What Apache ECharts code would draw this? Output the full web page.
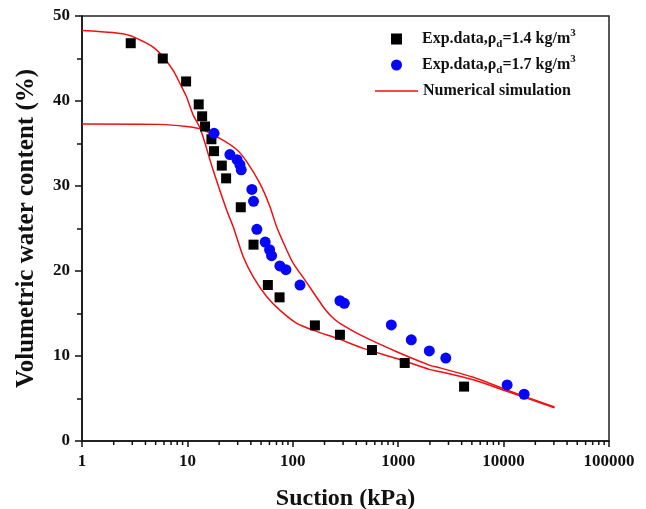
<!DOCTYPE html>
<html>
<head>
<meta charset="utf-8">
<script src="https://cdn.jsdelivr.net/npm/echarts@6/dist/echarts.min.js"></script>
<style>
  html, body { margin: 0; padding: 0; background: #fff; }
  #chart { width: 646px; height: 509px; }
</style>
</head>
<body>
<div id="chart"></div>
<script>
// Soil-water characteristic data: suction (kPa) vs volumetric water content (%)
const nameDense = 'Exp.data,ρd=1.4 kg/m3';
const nameLoose = 'Exp.data,ρd=1.7 kg/m3';
const nameSim = 'Numerical simulation';

// Experimental points, dry density 1.4
const suction14 = [2.9, 5.84, 9.72, 12.8, 13.8, 14.7, 16.9, 17.9, 21.2, 23.3, 32.1, 42.4, 58.0, 74.9, 162, 280, 564, 1153, 4217];
const theta14   = [46.8, 45.0, 42.3, 39.6, 38.2, 37.0, 35.5, 34.1, 32.4, 30.9, 27.5, 23.1, 18.35, 16.9, 13.6, 12.5, 10.7, 9.18, 6.4];

// Experimental points, dry density 1.7
const suction17 = [17.9, 25.3, 29.6, 31.5, 32.4, 40.9, 42.4, 45.6, 54.7, 60.2, 62.9, 75.4, 86.0, 117, 280, 308, 860, 1331, 1973, 2828, 10800, 15660];
const theta17   = [36.2, 33.7, 33.1, 32.5, 31.9, 29.6, 28.2, 24.9, 23.4, 22.5, 21.8, 20.6, 20.15, 18.35, 16.5, 16.2, 13.65, 11.9, 10.6, 9.76, 6.6, 5.5];

// Simulated curve for the 1.4 specimen
const simSuctionA = [1, 1.96, 2.84, 4.09, 4.9, 5.88, 7.32, 8.47, 9.8, 11.3, 13.3, 17.5, 23.5, 27.2, 33.8, 42.1, 56.4, 75.4, 109, 168, 261, 466, 968, 2005, 2495, 5170, 10720, 30400];
const simThetaA   = [48.3, 48.05, 47.7, 46.8, 46.2, 45.2, 43.6, 42.1, 40.5, 38.4, 36.7, 31.9, 27.2, 25.2, 21.7, 19.3, 17.0, 15.4, 13.85, 12.9, 12.1, 10.9, 9.7, 8.4, 8.15, 7.2, 5.85, 3.9];

// Simulated curve for the 1.7 specimen
const simSuctionB = [1, 5.47, 9.8, 13.3, 20.3, 29.3, 36.4, 48.7, 60.6, 70.2, 87.3, 101, 131, 202, 250, 301, 466, 968, 2005, 2495, 5170, 10720, 30400];
const simThetaB   = [37.3, 37.25, 37.0, 36.7, 35.6, 34.3, 32.9, 30.3, 27.6, 25.2, 22.5, 20.9, 18.9, 15.5, 14.3, 13.6, 12.3, 10.5, 8.9, 8.6, 7.5, 6.0, 4.0];

// Log-axis minor tick positions
const minorXTicks = [2, 3, 4, 5, 6, 7, 8, 9,
  20, 30, 40, 50, 60, 70, 80, 90,
  200, 300, 400, 500, 600, 700, 800, 900,
  2000, 3000, 4000, 5000, 6000, 7000, 8000, 9000,
  20000, 30000, 40000, 50000, 60000, 70000, 80000, 90000];

const pair = (xs, ys) => xs.map((x, i) => [x, ys[i]]);

const serif = '"Liberation Serif", "Times New Roman", serif';
const ink = '#111';
const legendRich = {
  t: { fontFamily: serif, fontWeight: 'bold', fontSize: 16, color: ink, lineHeight: 22 },
  s: { fontFamily: serif, fontWeight: 'bold', fontSize: 11, color: ink, lineHeight: 12, verticalAlign: 'bottom' },
  p: { fontFamily: serif, fontWeight: 'bold', fontSize: 11, color: ink, lineHeight: 12, verticalAlign: 'top' }
};
const legendLabels = {};
legendLabels[nameDense] = '{t|Exp.data,ρ}{s|d}{t|=1.4 kg/m}{p|3}';
legendLabels[nameLoose] = '{t|Exp.data,ρ}{s|d}{t|=1.7 kg/m}{p|3}';
legendLabels[nameSim] = '{t|Numerical simulation}';

const chart = echarts.init(document.getElementById('chart'), null, { renderer: 'canvas' });

chart.setOption({
  animation: false,
  backgroundColor: '#fff',
  grid: {
    left: 82, top: 16, right: 37, bottom: 68,
    outerBoundsMode: 'none', containLabel: false,
    show: true, borderColor: '#222', borderWidth: 1.5, backgroundColor: 'transparent'
  },
  legend: [
    {
      data: [nameDense, nameLoose],
      orient: 'vertical',
      left: 391, top: 28, padding: 0,
      itemWidth: 11, itemHeight: 11, itemGap: 4,
      formatter: name => legendLabels[name],
      textStyle: { padding: [0, 0, 0, 15], rich: legendRich },
      selectedMode: false
    },
    {
      data: [{ name: nameSim, icon: 'rect' }],
      orient: 'vertical',
      left: 375, top: 83, padding: 0,
      itemWidth: 43, itemHeight: 1.5,
      formatter: name => legendLabels[name],
      textStyle: { rich: legendRich },
      selectedMode: false
    }
  ],
  xAxis: {
    type: 'log', logBase: 10, min: 1, max: 100000,
    name: 'Suction (kPa)', nameLocation: 'middle', nameGap: 46,
    nameTextStyle: { fontFamily: serif, fontWeight: 'bold', fontSize: 24, color: ink },
    axisLine: { lineStyle: { color: ink, width: 1.5 } },
    axisTick: { inside: false, length: 6, lineStyle: { color: ink, width: 1.5 } },
    axisLabel: {
      fontFamily: serif, fontWeight: 'bold', fontSize: 17, color: ink, margin: 12,
      formatter: v => String(Math.round(v))
    },
    splitLine: { show: false },
    minorTick: { show: false }
  },
  yAxis: {
    type: 'value', min: 0, max: 50, interval: 10,
    name: 'Volumetric water content (%)', nameLocation: 'middle', nameGap: 43, nameRotate: 90,
    nameTextStyle: { fontFamily: serif, fontWeight: 'bold', fontSize: 25, color: ink },
    axisLine: { show: true, lineStyle: { color: ink, width: 1.5 } },
    axisTick: { show: true, inside: false, length: 7, lineStyle: { color: ink, width: 1.5 } },
    minorTick: { show: true, splitNumber: 2, length: 5, lineStyle: { color: ink, width: 1.5 } },
    axisLabel: { fontFamily: serif, fontWeight: 'bold', fontSize: 17, color: ink, margin: 12 },
    splitLine: { show: false }
  },
  series: [
    {
      name: nameSim, type: 'line', data: pair(simSuctionA, simThetaA),
      symbol: 'none', smooth: 0.25, color: '#ee1111',
      lineStyle: { color: '#ee1111', width: 1.5 }, z: 2
    },
    {
      name: nameSim, type: 'line', data: pair(simSuctionB, simThetaB),
      symbol: 'none', smooth: 0.25, color: '#ee1111',
      lineStyle: { color: '#ee1111', width: 1.5 }, z: 2
    },
    {
      name: nameDense, type: 'scatter', data: pair(suction14, theta14),
      symbol: 'rect', symbolSize: 10, color: '#000',
      itemStyle: { color: '#000', opacity: 1 }, z: 3
    },
    {
      name: nameLoose, type: 'scatter', data: pair(suction17, theta17),
      symbol: 'circle', symbolSize: 11, color: '#0606f8',
      itemStyle: { color: '#0606f8', opacity: 1 }, z: 3
    },
    {
      // minor ticks at 2..9 of every decade, drawn below the x axis
      type: 'custom', silent: true, clip: false, z: 5,
      data: minorXTicks.map(v => [v, 0]),
      renderItem: (params, api) => {
        const p = api.coord([api.value(0), 0]);
        return {
          type: 'line',
          shape: { x1: p[0], y1: p[1], x2: p[0], y2: p[1] + 4 },
          style: { stroke: ink, lineWidth: 1.5 }
        };
      }
    }
  ]
});
</script>
</body>
</html>
